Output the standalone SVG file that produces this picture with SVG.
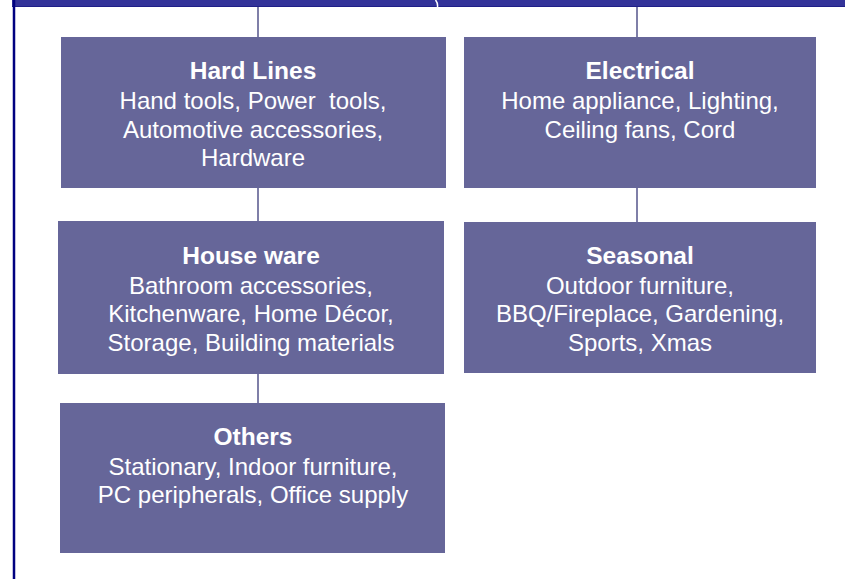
<svg xmlns="http://www.w3.org/2000/svg" width="845" height="579" viewBox="0 0 845 579">
<style>
.box{fill:#666699}
.t{font-family:'Liberation Sans',Arial,Helvetica,sans-serif;fill:#ffffff;text-anchor:middle;white-space:pre}
.h{font-size:24.5px;font-weight:bold}
.b{font-size:24px}
.c{stroke:#7f7fa8;stroke-width:2;fill:none}
</style>
<rect x="0" y="0" width="845" height="579" fill="#ffffff"/>
<g id="frame">
<rect x="12" y="0" width="833" height="7" fill="#333399"/>
<line x1="12" y1="6.5" x2="845" y2="6.5" stroke="#1f1f88" stroke-width="1"/>
<line x1="14" y1="0" x2="14" y2="579" stroke="#000080" stroke-width="2.5"/>
<path d="M435.5 0 Q438 3 437.5 7" stroke="#ffffff" stroke-width="1.5" fill="none"/>
</g>
<g id="connectors">
<line class="c" x1="258" y1="7" x2="258" y2="37"/>
<line class="c" x1="637" y1="7" x2="637" y2="37"/>
<line class="c" x1="258" y1="188" x2="258" y2="221"/>
<line class="c" x1="258" y1="374" x2="258" y2="403"/>
<line class="c" x1="637" y1="188" x2="637" y2="222"/>
</g>
<g id="hardlines">
<rect class="box" x="61" y="37" width="385" height="151"/>
<text class="t h" x="253" y="79">Hard Lines</text>
<text class="t b" x="253" y="109" xml:space="preserve">Hand tools, Power  tools,</text>
<text class="t b" x="253" y="138">Automotive accessories,</text>
<text class="t b" x="253" y="166">Hardware</text>
</g>
<g id="electrical">
<rect class="box" x="464" y="37" width="352" height="151"/>
<text class="t h" x="640" y="79">Electrical</text>
<text class="t b" x="640" y="109">Home appliance, Lighting,</text>
<text class="t b" x="640" y="138">Ceiling fans, Cord</text>
</g>
<g id="houseware">
<rect class="box" x="58" y="221" width="386" height="153"/>
<text class="t h" x="251" y="264">House ware</text>
<text class="t b" x="251" y="294">Bathroom accessories,</text>
<text class="t b" x="251" y="322">Kitchenware, Home Décor,</text>
<text class="t b" x="251" y="351">Storage, Building materials</text>
</g>
<g id="seasonal">
<rect class="box" x="464" y="222" width="352" height="151"/>
<text class="t h" x="640" y="264">Seasonal</text>
<text class="t b" x="640" y="294">Outdoor furniture,</text>
<text class="t b" x="640" y="322">BBQ/Fireplace, Gardening,</text>
<text class="t b" x="640" y="351">Sports, Xmas</text>
</g>
<g id="others">
<rect class="box" x="60" y="403" width="385" height="150"/>
<text class="t h" x="253" y="445">Others</text>
<text class="t b" x="253" y="475">Stationary, Indoor furniture,</text>
<text class="t b" x="253" y="503">PC peripherals, Office supply</text>
</g>
</svg>
